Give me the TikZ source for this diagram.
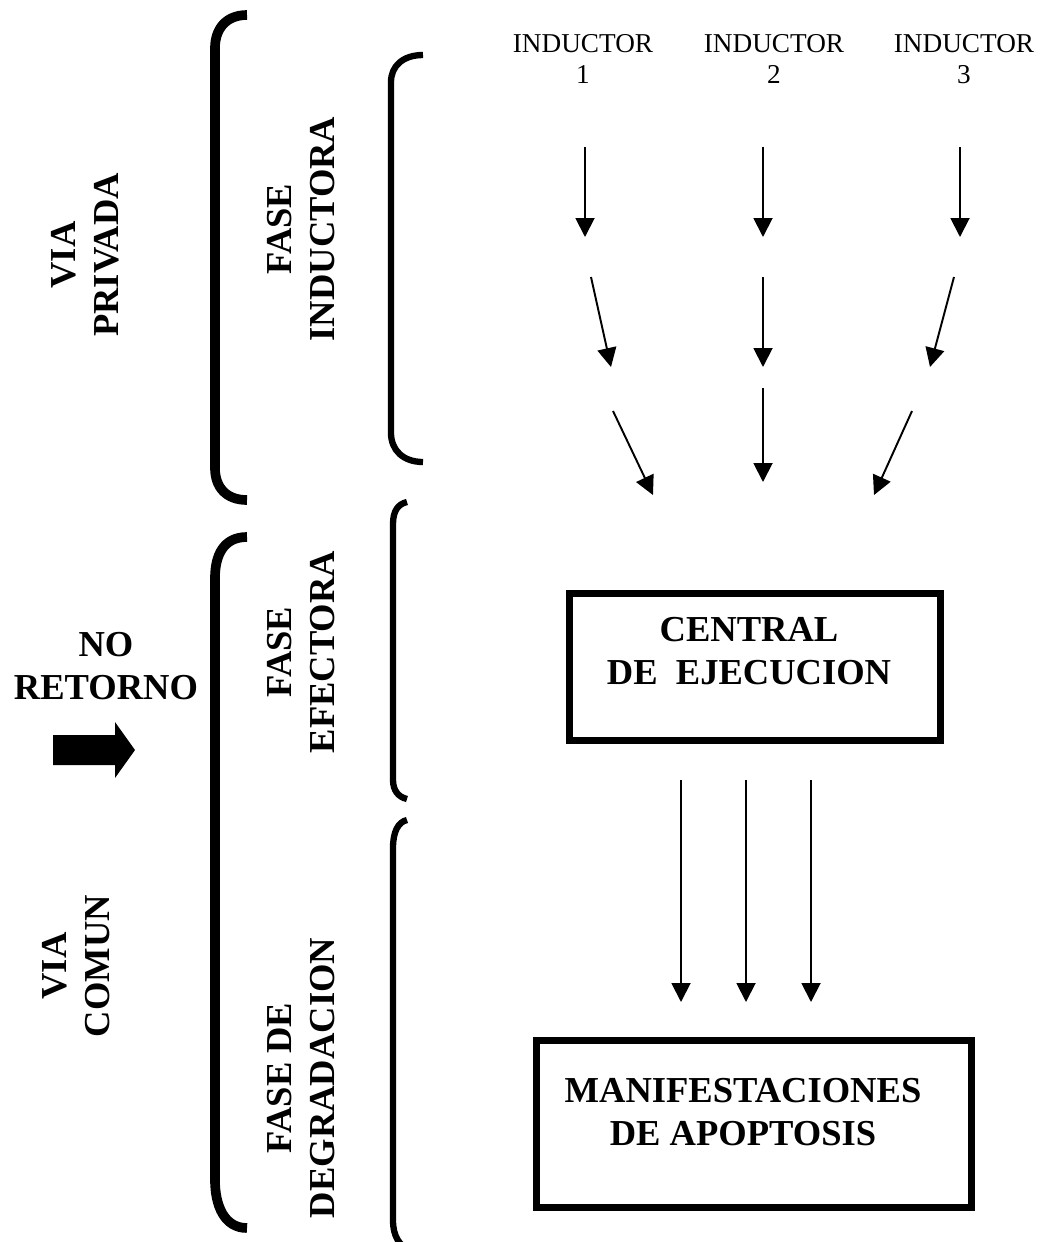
\documentclass[tikz,border=0pt]{standalone}
\usepackage{fontspec}
\setmainfont{Liberation Serif}
\usetikzlibrary{arrows.meta}

\begin{document}
\begin{tikzpicture}[
      x=0.02cm, y=-0.02cm,
      >={Triangle[width=0.38cm, length=0.38cm]},
      arr/.style={->, line width=1.1pt},
      bigbrace/.style={line width=5.5pt},
      brace/.style={line width=3.6pt},
      box/.style={draw, line width=4pt, minimum width=7.42cm, minimum height=2.94cm},
      lbl/.style={font=\fontsize{20.8}{24.5}\selectfont\bfseries, align=center, inner sep=0pt},
      vlbl/.style={lbl, rotate=90},
      ind/.style={font=\fontsize{15.5}{17.5}\selectfont, align=center, inner sep=0pt}
    ]
    \fill[white] (0,0) rectangle (1040,1242);
    \useasboundingbox (0,0) rectangle (1040,1242);

    % llaves de la izquierda
    \draw[bigbrace] (247,15) .. controls (226,15) and (215,29) .. (215,48) -- (215,468) .. controls (215,487) and (226,500) .. (247,500);
    \draw[bigbrace] (247,537) .. controls (223,537) and (215,556) .. (215,578) -- (215,1180) .. controls (215,1205) and (224,1228) .. (247,1228);
    \draw[brace] (423,55) .. controls (403,55) and (391,66) .. (391,82) -- (391,433) .. controls (391,450) and (403,462) .. (423,462);
    \draw[brace] (407,502) .. controls (398,504) and (393,511) .. (393,524) -- (393,780) .. controls (393,790) and (398,797) .. (407,799);
    \draw[brace] (407,820) .. controls (398,822) and (393,832) .. (393,848) -- (393,1220) .. controls (393,1236) and (399,1246) .. (412,1252);

    \node[vlbl] (viapriv) at (85,255) {VIA\\PRIVADA};
    \node[vlbl] (faseind) at (301,229) {FASE\\INDUCTORA};
    \node[lbl] (noret) at (106,666) {NO\\RETORNO};
    \node[vlbl] (faseef) at (301,652) {FASE\\EFECTORA};
    \node[vlbl] (viacom) at (76,966) {VIA\\COMUN};
    \node[vlbl] (fasedeg) at (301,1078) {FASE DE\\DEGRADACION};

    % flecha gruesa
    \fill (53,735) -- (115,735) -- (115,722) -- (135,750) -- (115,778) -- (115,765) -- (53,765) -- cycle;

    \node[ind] (ind1) at (583,59) {INDUCTOR\\1};
    \node[ind] (ind2) at (774,59) {INDUCTOR\\2};
    \node[ind] (ind3) at (964,59) {INDUCTOR\\3};

    \node[box] (central) at (755,667) {};
    \node[lbl] (centraltxt) at (749,651) {CENTRAL\\DE\ \ EJECUCION};
    \node[box, minimum width=8.72cm, minimum height=3.34cm] (manif) at (754,1124) {};
    \node[lbl] (maniftxt) at (743,1112) {MANIFESTACIONES\\DE APOPTOSIS};

    % puntos de las flechas
    \coordinate (a11) at (585,147);   \coordinate (b11) at (585,237);
    \coordinate (a12) at (763,147);   \coordinate (b12) at (763,237);
    \coordinate (a13) at (960,147);   \coordinate (b13) at (960,237);
    \coordinate (a21) at (591,277);   \coordinate (b21) at (611,367);
    \coordinate (a22) at (763,277);   \coordinate (b22) at (763,367);
    \coordinate (a23) at (954,277);   \coordinate (b23) at (930,367);
    \coordinate (a31) at (613,411);   \coordinate (b31) at (653,495);
    \coordinate (a32) at (763,388);   \coordinate (b32) at (763,482);
    \coordinate (a33) at (912,411);   \coordinate (b33) at (874,495);
    \coordinate (c1) at (681,780);    \coordinate (d1) at (681,1002);
    \coordinate (c2) at (746,780);    \coordinate (d2) at (746,1002);
    \coordinate (c3) at (811,780);    \coordinate (d3) at (811,1002);

    \draw[arr] (a11) -- (b11);
    \draw[arr] (a12) -- (b12);
    \draw[arr] (a13) -- (b13);
    \draw[arr] (a21) -- (b21);
    \draw[arr] (a22) -- (b22);
    \draw[arr] (a23) -- (b23);
    \draw[arr] (a31) -- (b31);
    \draw[arr] (a32) -- (b32);
    \draw[arr] (a33) -- (b33);
    \draw[arr] (c1) -- (d1);
    \draw[arr] (c2) -- (d2);
    \draw[arr] (c3) -- (d3);
  \end{tikzpicture}
\end{document}
